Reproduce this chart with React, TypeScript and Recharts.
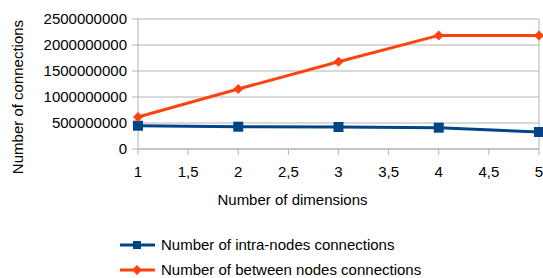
import { LineChart, Line, XAxis, YAxis, CartesianGrid, Legend, ReferenceLine } from 'recharts'

const DIMENSIONS = [1, 2, 3, 4, 5]
const INTRA_NODES = [448000000, 429000000, 423000000, 410000000, 327000000]
const BETWEEN_NODES = [615000000, 1154000000, 1679000000, 2185000000, 2185000000]
const X_TICKS = [1, 1.5, 2, 2.5, 3, 3.5, 4, 4.5, 5]
const Y_TICKS = [0, 500000000, 1000000000, 1500000000, 2000000000, 2500000000]

const LABELS = {
	X_TITLE: 'Number of dimensions',
	Y_TITLE: 'Number of connections',
	INTRA: 'Number of intra-nodes connections',
	BETWEEN: 'Number of between nodes connections',
}

const COLORS = {
	INTRA: '#004586',
	BETWEEN: '#ff420e',
	GRID: '#b3b3b3',
	TEXT: '#000000',
}

const FONT = '"Liberation Sans", Arial, sans-serif'

const data = DIMENSIONS.map((d, i) => ({
	dim: d,
	intra: INTRA_NODES[i],
	between: BETWEEN_NODES[i],
}))

// маркеры как в исходнике: квадрат и ромб
const SquareDot = ({ cx, cy }: any) => {
	if (cx == null || cy == null) return null
	return <rect x={cx - 5} y={cy - 5} width={10} height={10} fill={COLORS.INTRA} />
}

const DiamondDot = ({ cx, cy }: any) => {
	if (cx == null || cy == null) return null
	const r = 5
	return <path d={`M${cx},${cy - r}L${cx + r},${cy}L${cx},${cy + r}L${cx - r},${cy}Z`} fill={COLORS.BETWEEN} />
}

const renderLegend = () => {
	const items = [
		{ label: LABELS.INTRA, color: COLORS.INTRA, square: true },
		{ label: LABELS.BETWEEN, color: COLORS.BETWEEN, square: false },
	]
	return (
		<div style={{ fontFamily: FONT, fontSize: 15, color: COLORS.TEXT }}>
			{items.map((it) => (
				<div key={it.label} style={{ display: 'flex', alignItems: 'center', height: 25 }}>
					<svg width={43} height={14}>
						<line x1={2} y1={7} x2={37} y2={7} stroke={it.color} strokeWidth={3} />
						{it.square ? (
							<rect x={15} y={3} width={8} height={8} fill={it.color} />
						) : (
							<path d="M19,2L24,7L19,12L14,7Z" fill={it.color} />
						)}
					</svg>
					<span>{it.label}</span>
				</div>
			))}
		</div>
	)
}

export default function App() {
	return (
		<div style={{ position: 'absolute', left: 0, top: 0, width: 543, height: 278, background: '#fff' }}>
			<LineChart
				width={543}
				height={278}
				data={data}
				margin={{ top: 19, right: 4, left: 0, bottom: 99 }}
				style={{ fontFamily: FONT }}
			>
				<CartesianGrid vertical={false} stroke={COLORS.GRID} strokeWidth={1} />
				<XAxis
					dataKey="dim"
					type="number"
					domain={[1, 5]}
					ticks={X_TICKS}
					interval={0}
					height={30}
					tickSize={6}
					tickMargin={11}
					tickFormatter={(v: number) => String(v).replace('.', ',')}
					tick={{ fontSize: 15, fill: COLORS.TEXT }}
					stroke={COLORS.GRID}
					label={({ viewBox }: any) => (
						<text
							x={viewBox.x + viewBox.width / 2 - 46}
							y={205}
							textAnchor="middle"
							fontSize={15}
							fill={COLORS.TEXT}
						>
							{LABELS.X_TITLE}
						</text>
					)}
				/>
				<YAxis
					type="number"
					domain={[0, 2500000000]}
					ticks={Y_TICKS}
					interval={0}
					width={138}
					tickSize={6}
					tickMargin={5}
					tick={{ fontSize: 15, fill: COLORS.TEXT }}
					stroke={COLORS.GRID}
					label={({ viewBox }: any) => (
						<text
							x={23}
							y={viewBox.y + viewBox.height / 2 + 13}
							textAnchor="middle"
							fontSize={15}
							fill={COLORS.TEXT}
							transform={`rotate(-90, 23, ${viewBox.y + viewBox.height / 2 + 13})`}
						>
							{LABELS.Y_TITLE}
						</text>
					)}
				/>
				<ReferenceLine x={5} stroke={COLORS.GRID} />
				<Legend
					layout="vertical"
					verticalAlign="middle"
					align="center"
					content={renderLegend}
					wrapperStyle={{ left: 118, top: 232, width: 320 }}
				/>
				<Line
					dataKey="intra"
					name={LABELS.INTRA}
					stroke={COLORS.INTRA}
					strokeWidth={3}
					dot={<SquareDot />}
					activeDot={false}
					isAnimationActive={false}
				/>
				<Line
					dataKey="between"
					name={LABELS.BETWEEN}
					stroke={COLORS.BETWEEN}
					strokeWidth={3}
					dot={<DiamondDot />}
					activeDot={false}
					isAnimationActive={false}
				/>
			</LineChart>
		</div>
	)
}
